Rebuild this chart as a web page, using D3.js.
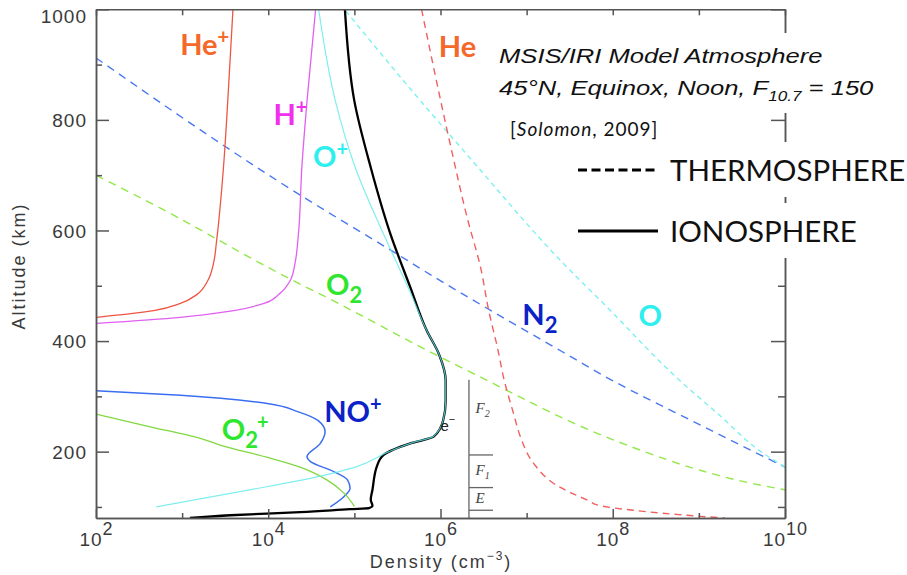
<!DOCTYPE html>
<html>
<head>
	<meta charset="utf-8">
	<title>MSIS/IRI Model Atmosphere</title>
</head>
<body>

<svg class="chart"></svg>

<style type="text/css">
	body {
		margin: 0;
		background: #fff;
	}

	.chart {
		display: block;
		width: 907px;
		height: 575px;
		background: #fff;
	}

	.axis .domain,
	.axis line {
		stroke: #555;
		stroke-width: 1.5px;
	}

	.axis text,
	.axis-title {
		font-family: "Liberation Sans", Arial, sans-serif;
		font-size: 19px;
		fill: #3a3a3a;
		letter-spacing: 1px;
	}

	.axis-title {
		font-size: 18px;
		letter-spacing: 2px;
	}

	.curve {
		fill: none;
	}

	.species {
		font-family: Lato, "Open Sans", sans-serif;
		font-weight: bold;
		font-size: 29px;
	}

	.band line {
		stroke: #666;
		stroke-width: 1.3px;
	}

	.band text {
		font-family: "Liberation Serif", serif;
		font-style: italic;
		font-size: 15px;
		fill: #444;
	}

	.title text {
		font-family: "Liberation Sans", Arial, sans-serif;
		font-style: italic;
		font-size: 21px;
		fill: #111;
	}

	.cite {
		font-family: Lato, sans-serif;
		font-size: 19px;
		letter-spacing: 1px;
		fill: #111;
	}

	.legend text {
		font-family: Lato, sans-serif;
		font-size: 29.5px;
		fill: #111;
	}
</style>

<script src="https://cdn.jsdelivr.net/npm/d3@7"></script>
<script type="text/javascript">
	(function() {
		'use strict'

		// every point is [log10 density (cm^-3), altitude (km)]

		// thermosphere (neutrals), dashed
		var n2Neutral = [[2.0, 912], [4.33, 668], [5.53, 554], [5.81, 527], [7.40, 382], [7.98, 330], [9.02, 248], [10.0, 172]]
		var o2Neutral = [[2.0, 700], [2.63, 650], [4.37, 503], [4.64, 482], [5.96, 374], [6.54, 329], [6.78, 310], [7.90, 228], [8.44, 196], [9.02, 166], [9.60, 143], [10.0, 131]]
		var oNeutral = [[4.9, 997], [5.77, 834], [6.27, 744], [7.51, 527], [7.86, 473], [8.79, 327], [9.26, 263], [9.72, 200], [10.0, 172]]
		var heNeutral = [[5.78, 1000], [6.13, 744], [6.31, 623], [6.47, 530], [6.56, 455], [6.66, 389], [6.74, 329], [6.85, 268], [6.93, 226], [7.085, 178], [7.32, 142], [7.71, 112], [7.86, 102], [8.24, 94], [9.02, 83], [9.3, 80]]

		// ionosphere (ions and electrons), solid
		var electrons = [[4.89, 1000], [5.0, 834], [5.19, 714], [5.42, 593], [5.65, 497], [5.84, 419], [5.98, 377], [6.06, 329], [6.06, 292], [6.03, 256], [5.92, 227], [5.65, 215], [5.34, 194], [5.26, 173], [5.21, 131], [5.19, 113], [5.21, 102], [5.17, 98], [4.95, 96], [4.37, 90.5], [3.56, 85], [3.09, 80]]
		var oPlus = [[4.585, 1000], [4.78, 834], [5.01, 714], [5.34, 593], [5.65, 488], [5.84, 419], [5.98, 377], [6.06, 329], [6.06, 292], [6.03, 256], [5.92, 228], [5.65, 215], [5.40, 200], [5.03, 173], [4.37, 148], [3.75, 130], [2.7, 100]]
		var hePlus = [[3.59, 1000], [3.53, 834], [3.48, 714], [3.40, 581], [3.37, 545], [3.30, 510], [3.17, 484], [2.98, 468], [2.67, 455], [2.01, 443]]
		var hPlus = [[4.55, 1000], [4.45, 834], [4.39, 714], [4.35, 593], [4.31, 540], [4.26, 511], [4.14, 487], [3.95, 468], [3.60, 455], [2.98, 443], [2.01, 432]]
		var noPlus = [[2.0, 310], [2.98, 302], [3.99, 287], [4.35, 272], [4.58, 256], [4.66, 236], [4.60, 214], [4.45, 191], [4.49, 182], [4.76, 164], [4.92, 149], [4.95, 134], [4.88, 119], [4.72, 100]]
		var o2Plus = [[2.0, 268], [2.63, 245], [3.21, 224], [3.44, 212], [3.98, 190], [4.37, 172], [4.68, 149], [4.88, 125], [5.0, 101]]

		// axes
		var xMajor = [1e2, 1e4, 1e6, 1e8, 1e10]
		var xMinor = [1e3, 1e5, 1e7, 1e9]
		var xTickExponents = ['2', '4', '6', '8', '10']
		var yMajor = [200, 400, 600, 800, 1000]
		var yMinor = [100, 300, 500, 700, 900]

		// ionospheric layers (km)
		var bandNames = ['F', 'F', 'E']
		var bandSubs = ['2', '1', '']
		var bandEdges = [330, 194, 135, 94]

		var width = 907
		var height = 575
		var left = 96, right = 785, top = 9.3, bottom = 518

		var svg = d3.select('.chart')
			.attr('viewBox', [0, 0, width, height])

		var x = d3.scaleLog().domain([1e2, 1e10]).range([left, right])
		var y = d3.scaleLinear().domain([80, 1000]).range([bottom, top])

		function px(d) { return x(Math.pow(10, d[0])) }
		function py(d) { return y(d[1]) }

		var line = d3.line().x(px).y(py).curve(d3.curveMonotoneY)

		svg.append('clipPath').attr('id', 'plot-area')
			.append('rect')
			.attr('x', left).attr('y', top)
			.attr('width', right - left).attr('height', bottom - top)

		var plot = svg.append('g').attr('clip-path', 'url(#plot-area)')

		var thermo = [
			{ data: n2Neutral, color: '#4a78f0', dash: '8,6' },
			{ data: o2Neutral, color: '#92e84a', dash: '8,6' },
			{ data: oNeutral, color: '#7ef0f0', dash: '5,4' },
			{ data: heNeutral, color: '#f06060', dash: '7,5' }
		]

		var iono = [
			{ data: hePlus, color: '#ee5544', w: 1.3 },
			{ data: hPlus, color: '#e060f0', w: 1.3 },
			{ data: noPlus, color: '#3a6ef0', w: 1.5 },
			{ data: o2Plus, color: '#80d840', w: 1.3 },
			{ data: electrons, color: '#000', w: 2.3 },
			{ data: oPlus, color: '#60eaea', w: 1.2 }
		]

		plot.selectAll('.thermo')
			.data(thermo)
			.enter()
			.append('path')
			.attr('class', 'curve thermo')
			.attr('d', function(d) { return line(d.data) })
			.attr('stroke', function(d) { return d.color })
			.attr('stroke-width', 1.4)
			.attr('stroke-dasharray', function(d) { return d.dash })

		plot.selectAll('.iono')
			.data(iono)
			.enter()
			.append('path')
			.attr('class', 'curve iono')
			.attr('d', function(d) { return line(d.data) })
			.attr('stroke', function(d) { return d.color })
			.attr('stroke-width', function(d) { return d.w })
			.attr('opacity', function(d) { return d.data === oPlus ? 0.8 : 1 })

		// layer markers
		var bandLeft = x(2.14e6)
		var bandRight = x(4.07e6)
		var band = svg.append('g').attr('class', 'band')

		band.append('line')
			.attr('x1', bandLeft).attr('x2', bandLeft)
			.attr('y1', y(bandEdges[0])).attr('y2', bottom)

		band.selectAll('.edge')
			.data(bandEdges.slice(1))
			.enter()
			.append('line')
			.attr('class', 'edge')
			.attr('x1', bandLeft).attr('x2', bandRight)
			.attr('y1', y).attr('y2', y)

		band.selectAll('text')
			.data(bandNames)
			.enter()
			.append('text')
			.attr('x', x(2.55e6))
			.attr('y', function(d, i) {
				var y0 = y(bandEdges[i]), y1 = y(bandEdges[i + 1])
				return y0 + Math.min(33, (y1 - y0) / 2 + 4)
			})
			.each(function(d, i) {
				var t = d3.select(this)
				t.append('tspan').text(d)
				if (bandSubs[i]) {
					t.append('tspan').attr('dy', 4).attr('font-size', 10).text(bandSubs[i])
				}
			})

		// axes
		function axisGroup(translate) {
			return svg.append('g').attr('class', 'axis').attr('transform', translate)
		}

		var bottomAxis = axisGroup('translate(0,' + bottom + ')')
			.call(d3.axisBottom(x).tickValues(xMajor).tickSize(-9).tickSizeOuter(0))
		axisGroup('translate(0,' + bottom + ')')
			.call(d3.axisBottom(x).tickValues(xMinor).tickSize(-5).tickSizeOuter(0).tickFormat(''))
		axisGroup('translate(0,' + top + ')')
			.call(d3.axisTop(x).tickValues(xMajor.concat(xMinor)).tickSize(-6).tickSizeOuter(0).tickFormat(''))

		bottomAxis.selectAll('.tick text')
			.text(null)
			.attr('y', 28)
			.attr('dy', null)
			.each(function(d, i) {
				var t = d3.select(this)
				t.append('tspan').text('10')
				t.append('tspan').attr('dy', -11).style('font-size', '18px').text(xTickExponents[i])
			})

		var leftAxis = axisGroup('translate(' + left + ',0)')
			.call(d3.axisLeft(y).tickValues(yMajor).tickSize(-13).tickSizeOuter(0).tickPadding(9).tickFormat(d3.format('d')))
		axisGroup('translate(' + left + ',0)')
			.call(d3.axisLeft(y).tickValues(yMinor).tickSize(-6).tickSizeOuter(0).tickFormat(''))

		leftAxis.selectAll('.tick text')
			.attr('dy', '0.36em')
			.attr('transform', function(d) { return 'translate(0,' + Math.max(0, 16 - y(d)) + ')' })

		axisGroup('translate(' + right + ',0)')
			.call(d3.axisRight(y).tickValues(yMajor).tickSize(-14).tickSizeOuter(0).tickFormat(''))
		axisGroup('translate(' + right + ',0)')
			.call(d3.axisRight(y).tickValues(yMinor).tickSize(-7).tickSizeOuter(0).tickFormat(''))

		svg.append('text')
			.attr('class', 'axis-title')
			.attr('transform', 'translate(24.5,' + 266 + ') rotate(-90)')
			.attr('text-anchor', 'middle')
			.text('Altitude (km)')

		var xTitle = svg.append('text')
			.attr('class', 'axis-title')
			.attr('x', 441)
			.attr('y', 568)
			.attr('text-anchor', 'middle')
		xTitle.append('tspan').text('Density (cm')
		xTitle.append('tspan').attr('dy', -8).style('font-size', '12px').text('\u22123')
		xTitle.append('tspan').attr('dy', 8).text(')')

		// species labels, anchored in data space
		var speciesLabels = [
			{ base: 'He', sup: '+', color: '#f4692a', at: [2.977, 918] },
			{ base: 'H', sup: '+', color: '#f030ee', at: [4.06, 791] },
			{ base: 'O', sup: '+', color: '#2eeeee', at: [4.52, 715] },
			{ base: 'He', color: '#f4692a', at: [5.98, 914] },
			{ base: 'O', sub: '2', color: '#2ee62e', at: [4.67, 484] },
			{ base: 'N', sub: '2', color: '#0b22c8', at: [6.95, 429] },
			{ base: 'O', color: '#2eeeee', at: [8.30, 427] },
			{ base: 'NO', sup: '+', color: '#0b22c8', at: [4.65, 254] },
			{ base: 'O', sub: '2', sup: '+', color: '#2ee62e', at: [3.46, 221] }
		]

		svg.selectAll('.species')
			.data(speciesLabels)
			.enter()
			.append('text')
			.attr('class', 'species')
			.attr('x', function(d) { return px(d.at) })
			.attr('y', function(d) { return py(d.at) })
			.attr('fill', function(d) { return d.color })
			.each(function(d) {
				var t = d3.select(this)
				t.append('tspan').text(d.base)
				var shift = 0
				if (d.sub) {
					t.append('tspan').attr('dy', 8).style('font-size', '22px').text(d.sub)
					shift = 8
				}
				if (d.sup) {
					t.append('tspan').attr('dy', -11 - shift).attr('dx', d.sub ? -1 : 0).style('font-size', '20px').text(d.sup)
				}
			})

		var eLabel = svg.append('text')
			.attr('x', px([6.0, 0]))
			.attr('y', py([0, 237]))
			.style('font-family', '"Liberation Sans", Arial, sans-serif')
			.style('font-size', '15px')
			.attr('fill', '#222')
		eLabel.append('tspan').text('e')
		eLabel.append('tspan').attr('dy', -8).style('font-size', '11px').text('\u2212')

		// title block (white box hides the right axis behind it)
		var title = svg.append('g').attr('class', 'title')
		title.append('rect')
			.attr('x', 495).attr('y', 33).attr('width', 395).attr('height', 80)
			.attr('fill', '#fff')

		var titleText = title.append('g').attr('transform', 'translate(499,0) scale(1.22,1)')
		titleText.append('text').attr('x', 0).attr('y', 63).text('MSIS/IRI Model Atmosphere')
		var line2 = titleText.append('text').attr('x', 0).attr('y', 95)
		line2.append('tspan').text('45\u00b0N, Equinox, Noon, F')
		line2.append('tspan').attr('dy', 6).style('font-size', '14px').text('10.7')
		line2.append('tspan').attr('dy', -6).text(' = 150')

		var cite = svg.append('text').attr('class', 'cite').attr('x', 510).attr('y', 136)
		cite.append('tspan').text('[')
		cite.append('tspan').style('font-style', 'italic').text('Solomon')
		cite.append('tspan').text(', 2009]')

		// legend
		var legendItems = [
			{ name: 'THERMOSPHERE', dash: '9,4.5' },
			{ name: 'IONOSPHERE', dash: null }
		]

		var legend = svg.append('g').attr('class', 'legend')
			.selectAll('g')
			.data(legendItems)
			.enter()
			.append('g')
			.attr('transform', function(d, i) { return 'translate(0,' + (170 + i * 61) + ')' })

		legend.append('rect')
			.attr('x', 665).attr('y', -28).attr('width', 242).attr('height', 55)
			.attr('fill', '#fff')

		legend.append('line')
			.attr('x1', 578).attr('x2', 658)
			.attr('stroke', '#000')
			.attr('stroke-width', 3)
			.attr('stroke-dasharray', function(d) { return d.dash })

		legend.append('text')
			.attr('x', 670)
			.attr('y', 10.5)
			.text(function(d) { return d.name })

	})()
</script>
</body>
</html>
